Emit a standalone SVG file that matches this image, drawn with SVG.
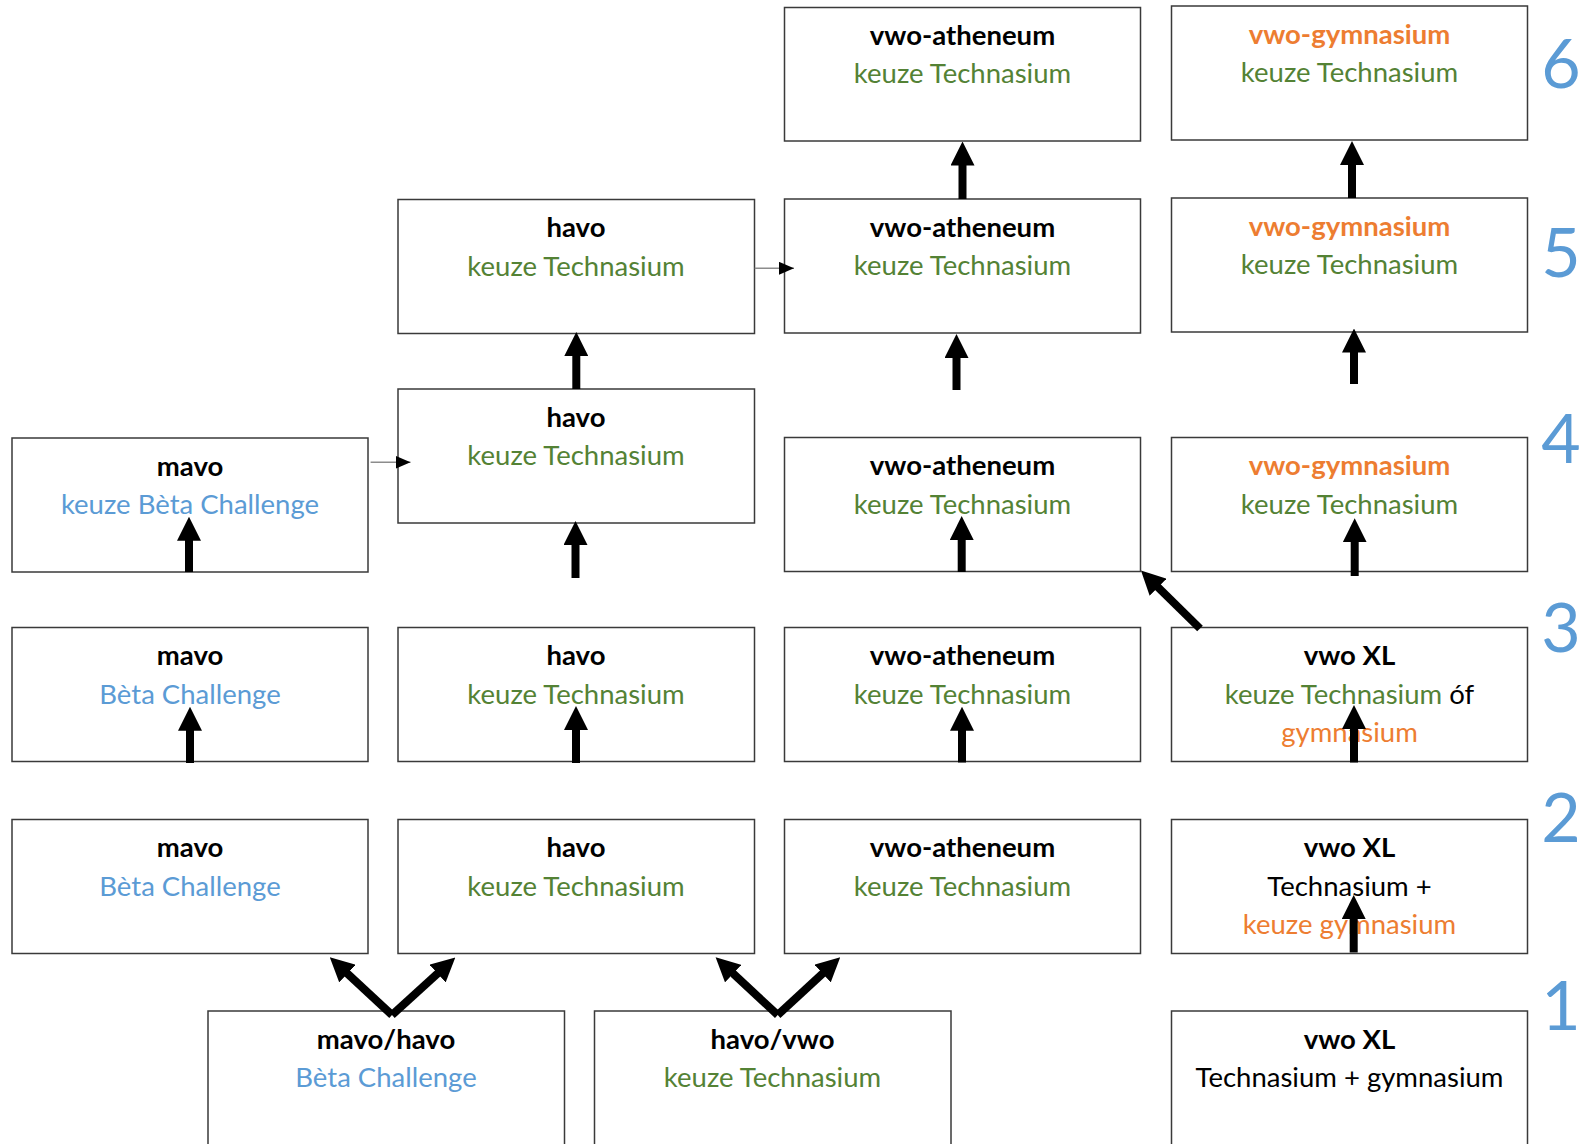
<svg xmlns="http://www.w3.org/2000/svg" width="1584" height="1144" viewBox="0 0 1584 1144">
<style>
.box{fill:#fff;stroke:#3a3a3a;stroke-width:1.5}
text{font-family:Lato,"Liberation Sans",sans-serif;font-size:27.5px;text-anchor:middle}
.t{font-weight:bold;fill:#000}
.g{fill:#548235}
.b{fill:#5B9BD5}
.o{fill:#ED7D31}
.k{fill:#000}
.ob{font-weight:bold;fill:#ED7D31}
.lvl{font-size:68px;font-weight:normal;fill:#5B9BD5}
.thick{stroke:#000;stroke-width:8;fill:none;marker-end:url(#ah)}
.thin{stroke:#8c8c8c;stroke-width:1.5;fill:none;marker-end:url(#ahs)}
</style>
<defs>
<marker id="ah" viewBox="0 0 10 10" refX="2.5" refY="5" markerWidth="3" markerHeight="3" orient="auto" markerUnits="strokeWidth">
<path d="M0,0 L10,5 L0,10 z" fill="#000"/>
</marker>
<marker id="ahs" viewBox="0 0 15 13" refX="15" refY="6.5" markerWidth="15" markerHeight="13" orient="auto" markerUnits="userSpaceOnUse">
<path d="M0,0 L15,6.5 L0,13 z" fill="#000"/>
</marker>
</defs>
<rect width="1584" height="1144" fill="#fff"/>

<!-- row 6 -->
<g id="n6a"><rect class="box" x="784.5" y="7.5" width="356" height="133.5"/><text class="t" x="962.5" y="44.5">vwo-atheneum</text><text class="g" x="962.5" y="83">keuze Technasium</text></g>
<g id="n6b"><rect class="box" x="1171.5" y="6" width="356" height="134"/><text class="ob" x="1349.5" y="43.5">vwo-gymnasium</text><text class="g" x="1349.5" y="82">keuze Technasium</text></g>

<!-- row 5 -->
<g id="n5a"><rect class="box" x="398" y="199.5" width="356.5" height="134"/><text class="t" x="576" y="237">havo</text><text class="g" x="576" y="275.5">keuze Technasium</text></g>
<g id="n5b"><rect class="box" x="784.5" y="199" width="356" height="134"/><text class="t" x="962.5" y="236.5">vwo-atheneum</text><text class="g" x="962.5" y="275">keuze Technasium</text></g>
<g id="n5c"><rect class="box" x="1171.5" y="198" width="356" height="134"/><text class="ob" x="1349.5" y="235.5">vwo-gymnasium</text><text class="g" x="1349.5" y="274">keuze Technasium</text></g>

<!-- row 4 -->
<g id="n4a"><rect class="box" x="12" y="438" width="356" height="134"/><text class="t" x="190" y="475.5">mavo</text><text class="b" x="190" y="514">keuze Bèta Challenge</text></g>
<g id="n4b"><rect class="box" x="398" y="389" width="356.5" height="134"/><text class="t" x="576" y="426.5">havo</text><text class="g" x="576" y="465">keuze Technasium</text></g>
<g id="n4c"><rect class="box" x="784.5" y="437.5" width="356" height="134"/><text class="t" x="962.5" y="475">vwo-atheneum</text><text class="g" x="962.5" y="513.5">keuze Technasium</text></g>
<g id="n4d"><rect class="box" x="1171.5" y="437.5" width="356" height="134"/><text class="ob" x="1349.5" y="475">vwo-gymnasium</text><text class="g" x="1349.5" y="513.5">keuze Technasium</text></g>

<!-- row 3 -->
<g id="n3a"><rect class="box" x="12" y="627.5" width="356" height="134"/><text class="t" x="190" y="665">mavo</text><text class="b" x="190" y="703.5">Bèta Challenge</text></g>
<g id="n3b"><rect class="box" x="398" y="627.5" width="356.5" height="134"/><text class="t" x="576" y="665">havo</text><text class="g" x="576" y="703.5">keuze Technasium</text></g>
<g id="n3c"><rect class="box" x="784.5" y="627.5" width="356" height="134"/><text class="t" x="962.5" y="665">vwo-atheneum</text><text class="g" x="962.5" y="703.5">keuze Technasium</text></g>
<g id="n3d"><rect class="box" x="1171.5" y="627.5" width="356" height="134"/><text class="t" x="1349.5" y="665">vwo XL</text><text x="1349.5" y="703.5"><tspan class="g">keuze Technasium</tspan><tspan class="k"> óf</tspan></text><text class="o" x="1349.5" y="742">gymnasium</text></g>

<!-- row 2 -->
<g id="n2a"><rect class="box" x="12" y="819.5" width="356" height="134"/><text class="t" x="190" y="857">mavo</text><text class="b" x="190" y="895.5">Bèta Challenge</text></g>
<g id="n2b"><rect class="box" x="398" y="819.5" width="356.5" height="134"/><text class="t" x="576" y="857">havo</text><text class="g" x="576" y="895.5">keuze Technasium</text></g>
<g id="n2c"><rect class="box" x="784.5" y="819.5" width="356" height="134"/><text class="t" x="962.5" y="857">vwo-atheneum</text><text class="g" x="962.5" y="895.5">keuze Technasium</text></g>
<g id="n2d"><rect class="box" x="1171.5" y="819.5" width="356" height="134"/><text class="t" x="1349.5" y="857">vwo XL</text><text class="k" x="1349.5" y="895.5">Technasium +</text><text class="o" x="1349.5" y="934">keuze gymnasium</text></g>

<!-- row 1 -->
<g id="n1a"><rect class="box" x="208" y="1011" width="356.5" height="150"/><text class="t" x="386" y="1048.5">mavo/havo</text><text class="b" x="386" y="1087">Bèta Challenge</text></g>
<g id="n1b"><rect class="box" x="594.5" y="1011" width="356.5" height="150"/><text class="t" x="772.5" y="1048.5">havo/vwo</text><text class="g" x="772.5" y="1087">keuze Technasium</text></g>
<g id="n1c"><rect class="box" x="1171.5" y="1011" width="356" height="150"/><text class="t" x="1349.5" y="1048.5">vwo XL</text><text class="k" x="1349.5" y="1087">Technasium + gymnasium</text></g>

<g id="levels">
<text class="lvl" x="1561" y="88">6</text>
<text class="lvl" x="1561" y="277">5</text>
<text class="lvl" x="1561" y="463">4</text>
<text class="lvl" x="1561" y="651.5">3</text>
<text class="lvl" x="1561" y="841.5">2</text>
<text class="lvl" x="1561" y="1030">1</text>
</g>

<g id="connectors">
<line class="thick" x1="962.5" y1="199" x2="962.5" y2="159.5"/>
<line class="thick" x1="1352" y1="198" x2="1352" y2="159"/>
<line class="thick" x1="956.5" y1="390" x2="956.5" y2="352"/>
<line class="thick" x1="1354" y1="384" x2="1354" y2="346.5"/>
<line class="thick" x1="576.3" y1="389" x2="576.3" y2="350"/>
<line class="thick" x1="575.5" y1="578" x2="575.5" y2="539"/>
<line class="thick" x1="189" y1="572" x2="189" y2="534.7"/>
<line class="thick" x1="961.7" y1="572" x2="961.7" y2="534"/>
<line class="thick" x1="1354.7" y1="576" x2="1354.7" y2="536.3"/>
<line class="thick" x1="1200" y1="628.5" x2="1153.8" y2="583.1"/>
<line class="thick" x1="190" y1="763" x2="190" y2="724.7"/>
<line class="thick" x1="576" y1="763" x2="576" y2="724"/>
<line class="thick" x1="962" y1="762.5" x2="962" y2="724.7"/>
<line class="thick" x1="1354" y1="762.5" x2="1354" y2="723"/>
<line class="thick" x1="1353.7" y1="952.5" x2="1353.7" y2="913"/>
<line class="thick" x1="392" y1="1015" x2="343" y2="969.5"/>
<line class="thick" x1="392" y1="1015" x2="442" y2="969.5"/>
<line class="thick" x1="777.7" y1="1015" x2="728.8" y2="969.5"/>
<line class="thick" x1="777.7" y1="1015" x2="827" y2="969.5"/>
<line class="thin" x1="370.6" y1="462.3" x2="410.5" y2="462.3"/>
<line class="thin" x1="754.7" y1="268.3" x2="794" y2="268.3"/>
</g>
</svg>
